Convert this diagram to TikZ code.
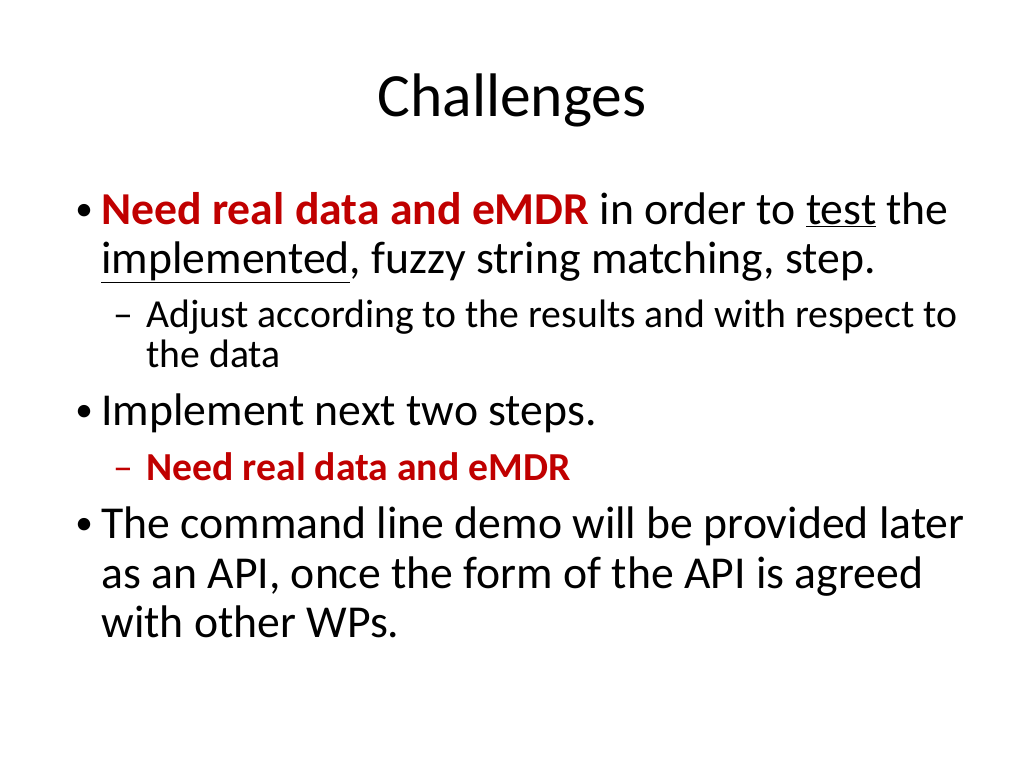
\documentclass[tikz,border=0pt]{standalone}
\usepackage{fontspec}
\setmainfont{Carlito}
\definecolor{rouge}{RGB}{192,0,0}
\begin{document}
\begin{tikzpicture}[x=0.02cm,y=-0.02cm]
		\tikzstyle{titre}=[anchor=base,font=\fontsize{35}{42}\selectfont]
		\tikzstyle{ligne}=[anchor=base west,inner sep=0pt,font=\fontsize{26}{31}\selectfont]
		\tikzstyle{sousligne}=[anchor=base west,inner sep=0pt,font=\fontsize{22.6}{27}\selectfont]
		\tikzstyle{puce}=[anchor=base west,inner sep=0pt,font=\fontsize{20}{24}\selectfont]
		
		\def\XPuce{75}
		\def\XTexte{101}
		\def\XTiret{113}
		\def\XSousTexte{146}
		
		\useasboundingbox (0,0) rectangle (1024,768);
		\node[titre] (T) at (512,116) {Challenges};
		
		\node[puce] (Pa) at (\XPuce,220) {•};
		\node[ligne] (La) at (\XTexte,224) {\textcolor{rouge}{\bfseries Need real data and eMDR} in order to \underline{test} the};
		\node[ligne] (Lb) at (\XTexte,273) {\underline{implemented}, fuzzy string matching, step.};
		\node[sousligne] (Sa) at (\XTiret,327) {–};
		\node[sousligne] (Ma) at (\XSousTexte,327) {Adjust according to the results and with respect to};
		\node[sousligne] (Mb) at (\XSousTexte,367) {the data};
		
		\node[puce] (Pb) at (\XPuce,421) {•};
		\node[ligne] (Lc) at (\XTexte,425) {Implement next two steps.};
		\node[sousligne] (Sb) at (\XTiret,480) {\textcolor{rouge}{–}};
		\node[sousligne] (Mc) at (\XSousTexte,480) {\textcolor{rouge}{\bfseries Need real data and eMDR}};
		
		\node[puce] (Pc) at (\XPuce,534) {•};
		\node[ligne] (Ld) at (\XTexte,538) {The command line demo will be provided later};
		\node[ligne] (Le) at (\XTexte,588) {as an API, once the form of the API is agreed};
		\node[ligne] (Lf) at (\XTexte,637) {with other WPs.};
\end{tikzpicture}
\end{document}
